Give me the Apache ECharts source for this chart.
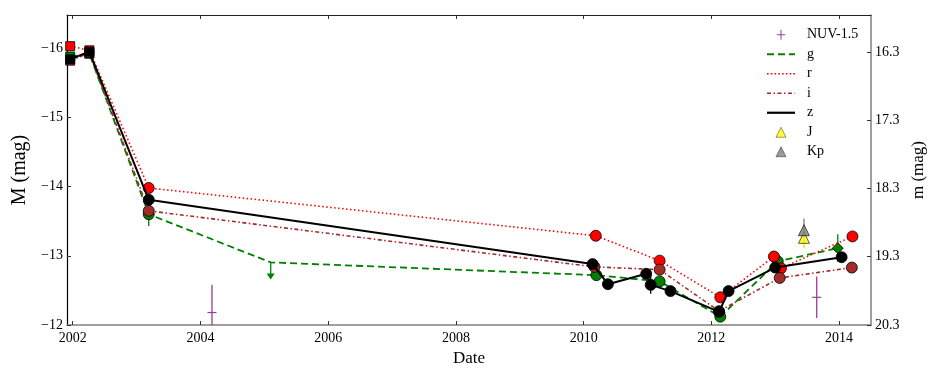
<!DOCTYPE html>
<html>
<head>
<meta charset="utf-8">
<script src="https://cdn.jsdelivr.net/npm/echarts@6/dist/echarts.min.js"></script>
<style>
html, body { margin: 0; padding: 0; background: #fff; }
#chart { width: 937px; height: 375px; }
</style>
</head>
<body>
<div id="chart"></div>
<script>
// tick labels
const xTicks = [2002, 2004, 2006, 2008, 2010, 2012, 2014];
const leftTicks = [-16, -15, -14, -13, -12];
const rightTicks = [16.3, 17.3, 18.3, 19.3, 20.3];

// light curves (date, absolute mag); first two points of each band are squares
const gDates = [2001.96, 2002.26, 2003.19, 2005.10, 2010.20, 2011.19, 2012.14, 2013.04, 2013.98];
const gMag   = [-15.88, -15.92, -13.60, -12.905, -12.72, -12.63, -12.12, -12.92, -13.11];
const gLimitDates = [2005.10];
const gLimitMag   = [-12.905];
const gErrDates = [2003.19, 2013.98];
const gErrMag   = [-13.60, -13.11];
const gErr      = [0.17, 0.20];

const rDates = [2001.96, 2002.26, 2003.19, 2010.19, 2011.19, 2012.14, 2012.98, 2013.09, 2014.21];
const rMag   = [-16.03, -15.97, -13.98, -13.29, -12.93, -12.40, -12.99, -12.82, -13.28];

const iDates = [2001.96, 2002.26, 2003.19, 2010.17, 2011.19, 2012.12, 2013.07, 2014.20];
const iMag   = [-15.82, -15.93, -13.65, -12.84, -12.80, -12.20, -12.68, -12.83];

const zDates = [2001.96, 2002.26, 2003.19, 2010.14, 2010.38, 2010.98, 2011.05, 2011.36, 2012.12, 2012.27, 2013.00, 2014.04];
const zMag   = [-15.84, -15.95, -13.81, -12.88, -12.59, -12.74, -12.58, -12.49, -12.19, -12.49, -12.83, -12.98];
const zErrDates = [2011.05];
const zErrMag   = [-12.58];
const zErr      = [0.13];

const nuvDates = [2004.18, 2013.65];
const nuvMag   = [-12.18, -12.40];
const nuvErr   = [0.40, 0.30];

const jDates = [2013.45];
const jMag   = [-13.26];
const jErr   = [0.15];

const kpDates = [2013.45];
const kpMag   = [-13.37];
const kpErr   = [0.17];

const FONT = "'Liberation Serif', 'DejaVu Serif', serif";
const PURPLE = '#9a3a9a';

function minus(v) { return String(v).replace('-', '\u2212'); }

function bandSeries(name, dates, mags, color, width, dash, z) {
  return {
    name: name,
    type: 'line',
    z: z,
    showAllSymbol: true,
    animation: false,
    emphasis: { disabled: true },
    data: dates.map((d, i) => {
      let sym = i < 2 ? 'rect' : 'circle';
      if (gLimitDates.indexOf(d) >= 0 && name === 'g') sym = 'none';
      if (name === 'g' && i === dates.length - 1) sym = 'diamond';
      return { value: [d, mags[i]], symbol: sym, symbolSize: i < 2 ? 9 : 11 };
    }),
    lineStyle: { color: color, width: width, type: dash },
    itemStyle: { color: color, borderColor: '#000', borderWidth: 0.8 }
  };
}

function clipY(cs, y) { return Math.max(cs.y, Math.min(cs.y + cs.height, y)); }

function errSeries(dates, mags, errs, color, z) {
  return {
    type: 'custom', z: z, silent: true, animation: false,
    data: dates.map((d, i) => [d, mags[i], errs[i]]),
    renderItem: function (params, api) {
      const cs = params.coordSys;
      const x = api.value(0), y = api.value(1), e = api.value(2);
      const a = api.coord([x, y - e]), b = api.coord([x, y + e]);
      return {
        type: 'line',
        shape: { x1: a[0], y1: clipY(cs, a[1]), x2: b[0], y2: clipY(cs, b[1]) },
        style: { stroke: color, lineWidth: 1.3 }
      };
    }
  };
}

// dashed legend icons built as paths
function dashIcon(pattern, total, t) {
  let p = '', x = 0, k = 0;
  while (x < total) {
    const len = Math.min(pattern[k % pattern.length], total - x);
    if (k % 2 === 0) p += 'M' + x + ',0h' + len + 'v' + t + 'h-' + len + 'z';
    x += pattern[k % pattern.length];
    k++;
  }
  return 'path://' + p;
}

const chart = echarts.init(document.getElementById('chart'), null, { renderer: 'canvas' });

const option = {
  backgroundColor: '#fff',
  animation: false,
  grid: { left: 67, right: 66, top: 15, bottom: 50, containLabel: false, outerBoundsMode: 'none' },
  legend: {
    orient: 'vertical', left: 767, top: 27, padding: 0,
    itemWidth: 28, itemHeight: 10, itemGap: 4,
    selectedMode: false,
    textStyle: { fontFamily: FONT, fontSize: 14, color: '#000', padding: [0, 0, 0, 7], lineHeight: 15.5 },
    data: [
      { name: 'NUV-1.5', icon: 'path://M4.4,0h1.2v12h-1.2z M0,5.4h10v1.2h-10z', itemStyle: { color: PURPLE, borderWidth: 0 } },
      { name: 'g', icon: dashIcon([7, 4], 28, 2), itemStyle: { borderWidth: 0 } },
      { name: 'r', icon: dashIcon([1.5, 2], 28, 1.5), itemStyle: { borderWidth: 0 } },
      { name: 'i', icon: dashIcon([4, 2.5, 1.5, 2.5], 28, 1.5), itemStyle: { borderWidth: 0 } },
      { name: 'z', icon: 'path://M0,0h28v2.2h-28z', itemStyle: { borderWidth: 0 } },
      { name: 'J', icon: 'path://M5,0L10,10L0,10z', itemStyle: { borderWidth: 0.5 } },
      { name: 'Kp', icon: 'path://M5,0L10,10L0,10z', itemStyle: { borderWidth: 0.5 } }
    ]
  },
  xAxis: [
    {
      type: 'value', position: 'bottom', min: 2001.91, max: 2014.5,
      name: 'Date', nameLocation: 'middle', nameGap: 23,
      nameTextStyle: { fontFamily: FONT, fontSize: 17, color: '#000' },
      axisLine: { show: true, lineStyle: { color: '#808080', width: 1.5 } },
      axisTick: { show: true, inside: true, length: 4, customValues: xTicks, lineStyle: { color: '#333' } },
      axisLabel: { customValues: xTicks, fontFamily: FONT, fontSize: 14, color: '#000', margin: 6, formatter: v => String(v) },
      splitLine: { show: false }
    },
    {
      type: 'value', position: 'top', min: 2001.91, max: 2014.5,
      axisLine: { show: true, lineStyle: { color: '#222', width: 1 } },
      axisTick: { show: true, inside: true, length: 4, customValues: xTicks, lineStyle: { color: '#333' } },
      axisLabel: { show: false },
      splitLine: { show: false }
    }
  ],
  yAxis: [
    {
      type: 'value', position: 'left', inverse: true, min: -16.48, max: -12,
      name: 'M (mag)', nameLocation: 'middle', nameGap: 36, nameRotate: 90,
      nameTextStyle: { fontFamily: FONT, fontSize: 20, color: '#000' },
      axisLine: { show: true, lineStyle: { color: '#000', width: 1.2 } },
      axisTick: { show: true, inside: true, length: 4, customValues: leftTicks, lineStyle: { color: '#333' } },
      axisLabel: { customValues: leftTicks, fontFamily: FONT, fontSize: 14, color: '#000', margin: 4, formatter: minus },
      splitLine: { show: false }
    },
    {
      type: 'value', position: 'right', inverse: true, min: 15.76, max: 20.3,
      name: 'm (mag)', nameLocation: 'middle', nameGap: 32, nameRotate: 90,
      nameTextStyle: { fontFamily: FONT, fontSize: 17, color: '#000' },
      axisLine: { show: true, lineStyle: { color: '#808080', width: 1.5 } },
      axisTick: { show: true, inside: true, length: 4, customValues: rightTicks, lineStyle: { color: '#333' } },
      axisLabel: { customValues: rightTicks, fontFamily: FONT, fontSize: 14, color: '#000', margin: 4, formatter: v => v.toFixed(1) },
      splitLine: { show: false }
    }
  ],
  series: [
    errSeries(gErrDates, gErrMag, gErr, '#008000', 1),
    errSeries(zErrDates, zErrMag, zErr, '#000', 1),
    {
      name: 'NUV-1.5', type: 'custom', z: 1, silent: true, animation: false,
      itemStyle: { color: PURPLE },
      data: nuvDates.map((d, i) => [d, nuvMag[i], nuvErr[i]]),
      renderItem: function (params, api) {
        const cs = params.coordSys;
        const x = api.value(0), y = api.value(1), e = api.value(2);
        const a = api.coord([x, y - e]), b = api.coord([x, y + e]), c = api.coord([x, y]);
        return {
          type: 'group',
          children: [
            { type: 'line', shape: { x1: a[0], y1: clipY(cs, a[1]), x2: b[0], y2: clipY(cs, b[1]) }, style: { stroke: PURPLE, lineWidth: 1.3 } },
            { type: 'line', shape: { x1: c[0] - 4.5, y1: c[1], x2: c[0] + 4.5, y2: c[1] }, style: { stroke: PURPLE, lineWidth: 1.2 } }
          ]
        };
      }
    },
    {
      type: 'custom', z: 1, silent: true, animation: false,
      data: gLimitDates.map((d, i) => [d, gLimitMag[i]]),
      renderItem: function (params, api) {
        const c = api.coord([api.value(0), api.value(1)]);
        return {
          type: 'group',
          children: [
            { type: 'line', shape: { x1: c[0], y1: c[1], x2: c[0], y2: c[1] + 13 }, style: { stroke: '#008000', lineWidth: 1.3 } },
            { type: 'polygon', shape: { points: [[c[0] - 4, c[1] + 11], [c[0] + 4, c[1] + 11], [c[0], c[1] + 17]] }, style: { fill: '#008000' } }
          ]
        };
      }
    },
    bandSeries('g', gDates, gMag, '#008000', 1.8, [7, 4], 2),
    bandSeries('r', rDates, rMag, '#ff0000', 1.6, [1.5, 2.5], 3),
    bandSeries('i', iDates, iMag, '#a52a2a', 1.6, [4, 2.5, 1.5, 2.5], 4),
    bandSeries('z', zDates, zMag, '#000000', 2, 'solid', 5),
    errSeries(jDates, jMag, jErr, '#e8e800', 6),
    errSeries(kpDates, kpMag, kpErr, '#808080', 6),
    {
      name: 'J', type: 'scatter', z: 7, symbol: 'triangle', symbolSize: 11, animation: false,
      emphasis: { disabled: true },
      itemStyle: { color: '#ffff00', borderColor: '#000', borderWidth: 0.8 },
      data: jDates.map((d, i) => [d, jMag[i]])
    },
    {
      name: 'Kp', type: 'scatter', z: 7, symbol: 'triangle', symbolSize: 11, animation: false,
      emphasis: { disabled: true },
      itemStyle: { color: '#808080', borderColor: '#000', borderWidth: 0.8 },
      data: kpDates.map((d, i) => [d, kpMag[i]])
    }
  ]
};

chart.setOption(option);
</script>
</body>
</html>
